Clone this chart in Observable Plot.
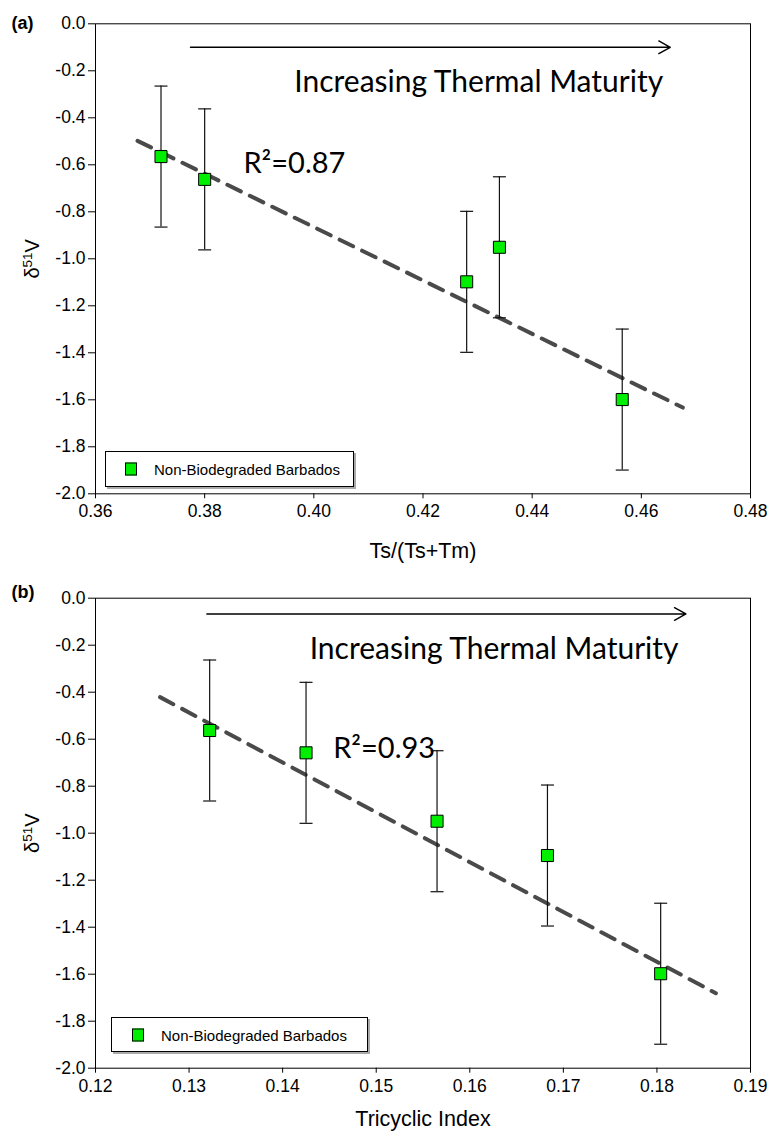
<!DOCTYPE html>
<html>
<head>
<meta charset="utf-8">
<script src="https://cdn.jsdelivr.net/npm/d3@7"></script>
<script src="https://cdn.jsdelivr.net/npm/@observablehq/plot@0.6"></script>
<style>
  body { margin: 0; background: #fff; }
  #wrap { position: relative; width: 769px; height: 1138px; overflow: hidden; }
  .panel { position: absolute; left: 0; }
  .legend { position: absolute; border: 1px solid #000; box-shadow: 2px 2px 0 #aaa; background: #fff;
            font-family: "Liberation Sans", Arial, sans-serif; font-size: 15px; box-sizing: border-box; }
  .legend .sw { position: absolute; width: 10px; height: 11px; background: #00ee00; border: 1px solid #000; top: 50%; transform: translate(-50%, -50%); }
  .legend .lb { position: absolute; top: 50%; transform: translateY(-50%); white-space: nowrap; }
</style>
</head>
<body>
<div id="wrap"></div>
<script>
// ---------- data ----------
const yTicks = [0, -0.2, -0.4, -0.6, -0.8, -1.0, -1.2, -1.4, -1.6, -1.8, -2.0];
const seriesName = "Non-Biodegraded Barbados";

// panel (a)
const tsTicks = [0.36, 0.38, 0.40, 0.42, 0.44, 0.46, 0.48];
const tsX = [0.372, 0.380, 0.428, 0.434, 0.4565];
const tsY = [-0.565, -0.662, -1.098, -0.951, -1.599];
const tsErr = [0.3, 0.3, 0.3, 0.3, 0.3];
const tsFitX = [0.3677, 0.4676];
const tsFitY = [-0.498, -1.633];
const tsArrowX = [0.3774, 0.4653];
const tsArrowY = [-0.10, -0.10];
const tsNoteX = [0.4302, 0.3871];
const tsNoteY = [-0.291, -0.634];
const tsR2 = "R²=0.87";

// panel (b)
const triTicks = [0.12, 0.13, 0.14, 0.15, 0.16, 0.17, 0.18, 0.19];
const triX = [0.1322, 0.1425, 0.1565, 0.1683, 0.1804];
const triY = [-0.563, -0.658, -0.949, -1.095, -1.598];
const triErr = [0.3, 0.3, 0.3, 0.3, 0.3];
const triFitX = [0.1269, 0.1863];
const triFitY = [-0.421, -1.681];
const triArrowX = [0.1319, 0.1831];
const triArrowY = [-0.067, -0.067];
const triNoteX = [0.1626, 0.1454];
const triNoteY = [-0.257, -0.678];
const triR2 = "R²=0.93";

const maturityText = "Increasing Thermal Maturity";

// ---------- drawing ----------
const capSymbol = { draw(ctx) { ctx.moveTo(-6.5, 0); ctx.lineTo(6.5, 0); } };
const sans = "'Liberation Sans', Arial, sans-serif";
const noteFont = "Lato, 'Open Sans', sans-serif";
const tickFont = 17.5;

function makePanel(cfg) {
  const pts = cfg.xs.map((x, i) => ({ x, y: cfg.ys[i], e: cfg.err[i] }));
  const caps = pts.flatMap(d => [{ x: d.x, y: d.y + d.e }, { x: d.x, y: d.y - d.e }]);
  const fit = cfg.fitX.map((x, i) => ({ x, y: cfg.fitY[i] }));
  const arrow = [{ x1: cfg.arrowX[0], x2: cfg.arrowX[1], y1: cfg.arrowY[0], y2: cfg.arrowY[1] }];
  const svg = Plot.plot({
    width: 769,
    height: cfg.height,
    marginLeft: 95, marginRight: 19,
    marginTop: cfg.marginTop, marginBottom: cfg.marginBottom,
    style: { fontFamily: sans, fontSize: tickFont + "px", color: "#000", background: "#fff", overflow: "visible" },
    x: { domain: cfg.domain },
    y: { domain: [-2, 0] },
    marks: [
      Plot.frame({ stroke: "#000", strokeWidth: 1 }),
      Plot.axisY({ ticks: yTicks, tickFormat: d => d.toFixed(1), tickSize: 7, tickPadding: 3, label: null, fontSize: tickFont }),
      Plot.axisX({ ticks: cfg.ticks, tickFormat: d => d.toFixed(2), tickSize: 5, tickPadding: 6, label: null, fontSize: tickFont }),
      Plot.line(fit, { x: "x", y: "y", stroke: "#4a4a4a", strokeWidth: 4, strokeDasharray: "15,10" }),
      Plot.ruleX(pts, { x: "x", y1: d => d.y - d.e, y2: d => d.y + d.e, stroke: "#111", strokeWidth: 1.2 }),
      Plot.dot(caps, { x: "x", y: "y", symbol: capSymbol, r: 5, fill: "none", stroke: "#111", strokeWidth: 1.2 }),
      Plot.dot(pts, { x: "x", y: "y", symbol: "square", r: 6.8, fill: "#00ee00", stroke: "#000", strokeWidth: 1 }),
      Plot.arrow(arrow, { x1: "x1", y1: "y1", x2: "x2", y2: "y2", stroke: "#000", strokeWidth: 1.4, headLength: 14, headAngle: 58 }),
      Plot.text([maturityText], { x: cfg.noteX[0], y: cfg.noteY[0], text: d => d, fontFamily: noteFont, fontSize: 30, lineAnchor: "bottom", textAnchor: "middle", fill: "#000" }),
      Plot.text([cfg.r2], { x: cfg.noteX[1], y: cfg.noteY[1], text: d => d, fontFamily: noteFont, fontSize: 29, lineAnchor: "bottom", textAnchor: "start", fill: "#000" }),
      Plot.text([cfg.tag], { frameAnchor: "top-left", text: d => d, dx: -84, dy: cfg.tagDy, textAnchor: "start", lineAnchor: "middle", fontWeight: "bold", fontSize: 18, fontFamily: sans }),
      Plot.text(["δ51V"], { frameAnchor: "left", text: d => d, rotate: -90, dx: -63, textAnchor: "middle", lineAnchor: "middle", fontSize: 20, fontFamily: sans }),
      Plot.text([cfg.xLabel], { frameAnchor: "bottom", text: d => d, dy: cfg.xLabelDy, textAnchor: "middle", lineAnchor: "middle", fontSize: 21.5, fontFamily: sans })
    ]
  });
  svg.querySelectorAll("text").forEach(t => {
    if (t.textContent === "δ51V") {
      t.innerHTML = 'δ<tspan baseline-shift="super" font-size="13.5">51</tspan>V';
    }
  });
  return svg;
}

const wrap = document.getElementById("wrap");

function addPanel(cfg, top, legend) {
  const div = document.createElement("div");
  div.className = "panel";
  div.style.top = top + "px";
  div.appendChild(makePanel(cfg));
  wrap.appendChild(div);
  const lg = document.createElement("div");
  lg.className = "legend";
  lg.style.left = legend.left + "px";
  lg.style.top = (top + legend.top) + "px";
  lg.style.width = legend.width + "px";
  lg.style.height = legend.height + "px";
  const sw = document.createElement("div");
  sw.className = "sw"; sw.style.left = legend.sw + "px";
  const lb = document.createElement("div");
  lb.className = "lb"; lb.style.left = legend.lb + "px"; lb.textContent = seriesName;
  lg.appendChild(sw); lg.appendChild(lb);
  wrap.appendChild(lg);
}

addPanel({
  height: 578, marginTop: 23.3, marginBottom: 84.7,
  domain: [0.36, 0.48], ticks: tsTicks, xs: tsX, ys: tsY, err: tsErr,
  fitX: tsFitX, fitY: tsFitY, arrowX: tsArrowX, arrowY: tsArrowY,
  noteX: tsNoteX, noteY: tsNoteY, r2: tsR2, tag: "(a)", tagDy: -1,
  xLabel: "Ts/(Ts+Tm)", xLabelDy: 57
}, 0, { left: 105, top: 451, width: 249, height: 36, sw: 25, lb: 48 });

addPanel({
  height: 560, marginTop: 19.7, marginBottom: 70.3,
  domain: [0.12, 0.19], ticks: triTicks, xs: triX, ys: triY, err: triErr,
  fitX: triFitX, fitY: triFitY, arrowX: triArrowX, arrowY: triArrowY,
  noteX: triNoteX, noteY: triNoteY, r2: triR2, tag: "(b)", tagDy: -6,
  xLabel: "Tricyclic Index", xLabelDy: 51
}, 578, { left: 111, top: 439, width: 257, height: 35, sw: 26, lb: 49 });
</script>
</body>
</html>
